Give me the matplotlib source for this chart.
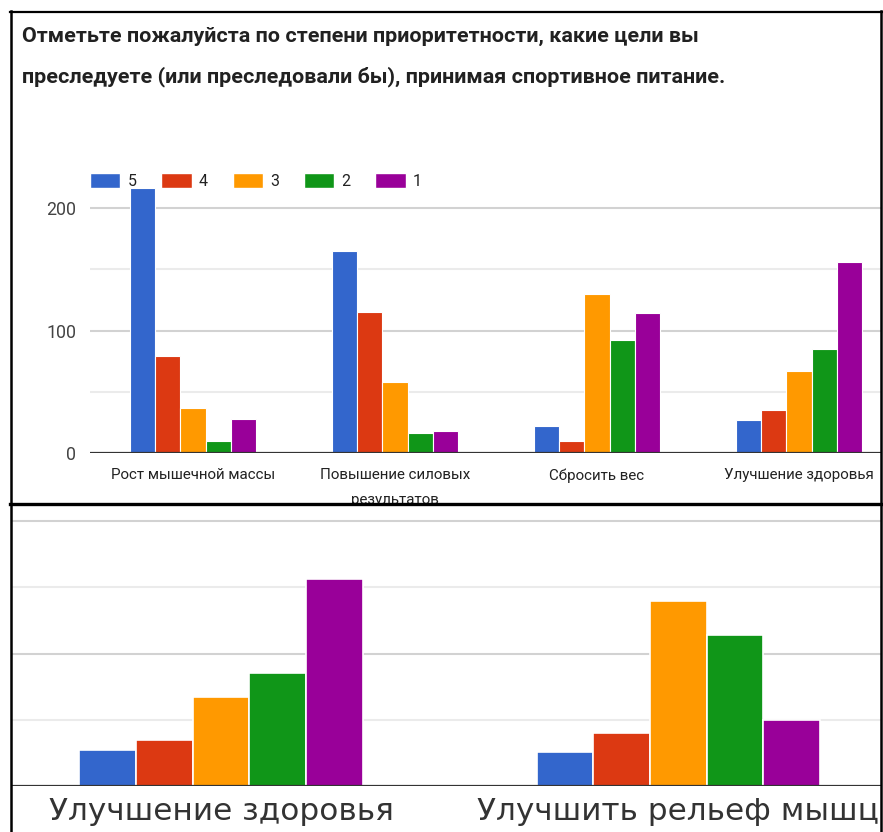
import matplotlib
matplotlib.use("Agg")
import matplotlib.pyplot as plt
from matplotlib.patches import Patch
from matplotlib.lines import Line2D
import numpy as np

# ---------------- data ----------------
categories = ["Рост мышечной массы", "Повышение силовых\nрезультатов", "Сбросить вес",
              "Улучшение здоровья", "Улучшить рельеф мышц"]
series_names = ["5", "4", "3", "2", "1"]
vals_5 = [216, 165, 22, 27, 26]
vals_4 = [79, 115, 10, 35, 40]
vals_3 = [37, 58, 130, 67, 140]
vals_2 = [10, 16, 92, 85, 114]
vals_1 = [28, 18, 114, 156, 50]
series_values = [vals_5, vals_4, vals_3, vals_2, vals_1]
colors = ["#3366CC", "#DC3912", "#FF9900", "#109618", "#990099"]
title_lines = ["Отметьте пожалуйста по степени приоритетности, какие цели вы",
               "преследуете (или преследовали бы), принимая спортивное питание."]
y_ticks = [0, 100, 200]
minor_ticks = [50, 150]

# ---------------- figure ----------------
W, H = 883, 832
fig = plt.figure(figsize=(W / 100, H / 100), dpi=100)
renderer = fig.canvas.get_renderer()


def px_axes(l, t, r, b):
    return fig.add_axes([l / W, 1 - b / H, (r - l) / W, (b - t) / H])


def fit_size(text, target_px, family, weight="normal", base=12):
    t = fig.text(0, 0, text, fontsize=base, family=family, weight=weight)
    w = t.get_window_extent(renderer).width
    t.remove()
    return base * target_px / w


x = np.arange(len(categories))
bw = 0.124


def draw_bars(ax, lw):
    for i, (vals, c) in enumerate(zip(series_values, colors)):
        ax.bar(x + (i - 2) * bw, vals, width=bw, color=c, edgecolor="white",
               linewidth=lw, zorder=3)


def grid(ax):
    for v in y_ticks[1:]:
        ax.axhline(v, color="#d2d2d2", lw=1.5, zorder=1)
    for v in minor_ticks:
        ax.axhline(v, color="#ebebeb", lw=1.5, zorder=1)
    ax.axhline(0, color="#333333", lw=1.6, zorder=4)
    for s in ax.spines.values():
        s.set_visible(False)


FONT = ["Roboto", "DejaVu Sans"]

# ---------------- top panel ----------------
ax1 = px_axes(90, 180, 881, 453)
draw_bars(ax1, 0.8)
grid(ax1)
ax1.set_yticks(y_ticks)
ax1.set_yticklabels([str(v) for v in y_ticks], family=FONT)
ax1.tick_params(axis="y", length=0, pad=10, labelsize=12.8, labelcolor="#444444")
cat_size = fit_size(categories[0], 165, FONT)
ax1.set_xticks(x)
ax1.set_xticklabels(categories, family=FONT, linespacing=1.95)
ax1.tick_params(axis="x", length=0, pad=11, labelsize=cat_size, labelcolor="#222222")
ax1.set_xlim(-0.51, 3.406)
ax1.set_ylim(0, 222.9)

handles = [Patch(facecolor=c, edgecolor="white", label=n) for c, n in zip(colors, series_names)]
leg = ax1.legend(handles=handles, loc="center left", bbox_to_anchor=(90 / W, 1 - 181 / H),
                 bbox_transform=fig.transFigure, ncol=5, frameon=False, fontsize=11.5,
                 handlelength=1.9, handleheight=1.05, handletextpad=0.45,
                 columnspacing=1.55, borderpad=0, borderaxespad=0)
for t in leg.get_texts():
    t.set_color("#222222")
    t.set_family(FONT)

title_size = fit_size(title_lines[0], 671, FONT, weight="bold")
fig.text(22 / W, 1 - 42 / H, title_lines[0], fontsize=title_size, family=FONT,
         weight="bold", color="#212121", va="baseline")
fig.text(22 / W, 1 - 82 / H, title_lines[1], fontsize=title_size, family=FONT,
         weight="bold", color="#212121", va="baseline")

# ---------------- bottom (zoomed) panel ----------------
ax2 = px_axes(11, 504, 881, 786)
draw_bars(ax2, 1.2)
grid(ax2)
ax2.set_yticks([])
big_size = fit_size(categories[3], 343, ["DejaVu Sans"])
ax2.set_xticks(x)
ax2.set_xticklabels([c.replace("\n", " ") for c in categories], family=["DejaVu Sans"])
ax2.tick_params(axis="x", length=0, pad=8, labelsize=big_size, labelcolor="#333333")
ax2.set_xlim(2.541, 4.443)
ax2.set_ylim(0, 213)

# ---------------- frames ----------------
def fline(xs, ys, lw=2.0):
    fig.add_artist(Line2D([v / W for v in xs], [1 - v / H for v in ys], color="black",
                          lw=lw, transform=fig.transFigure, zorder=10))

fline([10, 881.5], [11.5, 11.5], 1.6)
fline([10.5, 10.5], [11, 832], 1.8)
fline([881, 881], [11, 832], 1.8)
fline([10, 881.5], [503.5, 503.5], 2.4)

fig.savefig("out.png", dpi=100)
